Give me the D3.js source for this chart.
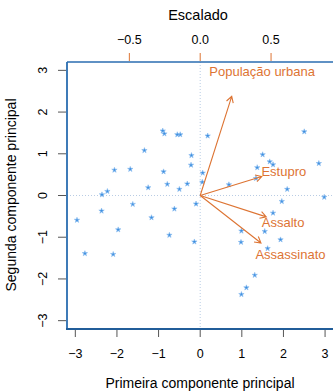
<!DOCTYPE html>
<html>
<head>
<meta charset="utf-8">
<script src="https://cdn.jsdelivr.net/npm/d3@7"></script>
<style>
  body { margin: 0; background: #fff; }
  text { font-family: "Liberation Sans", Arial, sans-serif; }
</style>
</head>
<body>
<svg width="333" height="392"></svg>
<script>
// escores dos estados (PC1, PC2)
var pc1 = [0.98, 1.93, 1.75, -0.14, 2.50, 1.50, -1.34, 0.05, 2.98, 1.62,
           -0.90, -1.62, 1.37, -0.50, -2.23, -0.79, -0.74, 1.55, -2.37, 1.75,
           -0.48, 2.09, -1.68, 0.99, 0.69, -1.17, -1.25, 2.85, -2.36, 0.18,
           1.96, 1.67, 1.11, -2.96, -0.22, -0.31, 0.06, -0.88, -0.86, 1.31,
           -1.97, 0.99, 1.34, -0.55, -2.77, -0.10, -0.21, -2.09, -2.06, -0.62];
var pc2 = [-1.12, -1.06, 0.74, -1.11, 1.53, 0.98, 1.08, 0.32, -0.04, -1.27,
           1.55, -0.21, 0.67, 0.15, 0.10, 0.27, -0.95, -0.86, -0.37, -0.42,
           1.46, 0.15, 0.63, -2.37, 0.26, -0.53, 0.19, 0.77, 0.02, 1.43,
           -0.14, 0.81, -2.21, -0.59, 0.73, 0.28, 0.54, 0.57, 1.48, -1.91,
           -0.82, -0.85, 0.41, 1.46, -1.39, -0.20, 0.96, -1.41, 0.61, -0.32];

// cargas das variaveis
var variaveis = ["Assassinato", "Assalto", "População urbana", "Estupro"];
var cargaX = [0.536, 0.583, 0.278, 0.543];
var cargaY = [-0.418, -0.188, 0.873, 0.167];
var rotuloX = [0.637, 0.585, 0.437, 0.59];

var ticksBaixo = [-3, -2, -1, 0, 1, 2, 3];
var ticksEsq = [-3, -2, -1, 0, 1, 2, 3];
var ticksTopo = [-0.5, 0.0, 0.5];

var svg = d3.select("svg");
var laranja = "#dd7433", azul = "#2a6db0", ponto = "#3d8fe0";

var x = d3.scaleLinear().domain([-3.2, 3.2]).range([67, 333.4]);
var y = d3.scaleLinear().domain([-3.2, 3.2]).range([329, 62]);
var xl = d3.scaleLinear().domain([-0.94, 0.94]).range([67, 333.4]);
var yl = d3.scaleLinear().domain([-0.94, 0.94]).range([329, 62]);

// linhas de referencia
svg.append("line").attr("x1", x(0)).attr("x2", x(0)).attr("y1", 62).attr("y2", 329)
   .attr("stroke", "#b9cce4").attr("stroke-dasharray", "1,2");
svg.append("line").attr("x1", 67).attr("x2", 333).attr("y1", y(0)).attr("y2", y(0))
   .attr("stroke", "#b9cce4").attr("stroke-dasharray", "1,2");

// pontos
var dados = pc1.map(function(d, i) { return {x: d, y: pc2[i]}; });
svg.append("g").selectAll("path")
   .data(dados).enter().append("path")
   .attr("d", d3.symbol().type(d3.symbolStar).size(9))
   .attr("transform", function(d) { return "translate(" + x(d.x) + "," + y(d.y) + ")"; })
   .attr("fill", ponto).attr("stroke", "#8dbdf0").attr("stroke-width", 0.6);

// setas
var setas = variaveis.map(function(v, i) {
  return {nome: v, x: cargaX[i], y: cargaY[i], lx: rotuloX[i]};
});
var g = svg.append("g");
setas.forEach(function(s) {
  var x0 = xl(0), y0 = yl(0), x1 = xl(s.x * 0.8), y1 = yl(s.y * 0.8);
  var ang = Math.atan2(y1 - y0, x1 - x0), len = 7, a = Math.PI / 6;
  g.append("path")
   .attr("d", "M" + x0 + "," + y0 + "L" + x1 + "," + y1 +
        "M" + (x1 - len * Math.cos(ang - a)) + "," + (y1 - len * Math.sin(ang - a)) +
        "L" + x1 + "," + y1 +
        "L" + (x1 - len * Math.cos(ang + a)) + "," + (y1 - len * Math.sin(ang + a)))
   .attr("fill", "none").attr("stroke", laranja).attr("stroke-width", 1.1);
  g.append("text").attr("x", xl(s.lx)).attr("y", yl(s.y) + 4.5)
   .attr("text-anchor", "middle").attr("font-size", 13).attr("fill", laranja)
   .text(s.nome);
});

// caixa
svg.append("line").attr("x1", 67).attr("x2", 333).attr("y1", 62).attr("y2", 62)
   .attr("stroke", azul).attr("stroke-width", 1.5);
svg.append("line").attr("x1", 67).attr("x2", 67).attr("y1", 62).attr("y2", 329)
   .attr("stroke", azul).attr("stroke-width", 1.8);
svg.append("line").attr("x1", 66).attr("x2", 333).attr("y1", 329).attr("y2", 329)
   .attr("stroke", "#215d99").attr("stroke-width", 2);

// eixo de baixo
svg.selectAll(".tb").data(ticksBaixo).enter().append("line")
   .attr("x1", x).attr("x2", x).attr("y1", 330).attr("y2", 337)
   .attr("stroke", "#555");
svg.selectAll(".lb").data(ticksBaixo).enter().append("text")
   .attr("x", x).attr("y", 358).attr("text-anchor", "middle").attr("font-size", 12.5)
   .text(function(d) { return d < 0 ? "\u2212" + (-d) : d; });

// eixo da esquerda
svg.selectAll(".te").data(ticksEsq).enter().append("line")
   .attr("x1", 58).attr("x2", 66).attr("y1", y).attr("y2", y)
   .attr("stroke", "#555");
svg.selectAll(".le").data(ticksEsq).enter().append("text")
   .attr("transform", function(d) { return "translate(47," + y(d) + ") rotate(-90)"; })
   .attr("text-anchor", "middle").attr("font-size", 12.5)
   .text(function(d) { return d < 0 ? "\u2212" + (-d) : d; });

// eixo de cima (escalado)
svg.selectAll(".tt").data(ticksTopo).enter().append("line")
   .attr("x1", xl).attr("x2", xl).attr("y1", 53).attr("y2", 61)
   .attr("stroke", laranja);
svg.selectAll(".lt").data(ticksTopo).enter().append("text")
   .attr("x", xl).attr("y", 44).attr("text-anchor", "middle").attr("font-size", 12.5)
   .text(function(d) { return (d < 0 ? "\u2212" : "") + Math.abs(d).toFixed(1); });

// titulos
svg.append("text").attr("x", 198).attr("y", 20).attr("text-anchor", "middle")
   .attr("font-size", 14.5).text("Escalado");
svg.append("text").attr("x", 200).attr("y", 388).attr("text-anchor", "middle")
   .attr("font-size", 14).text("Primeira componente principal");
svg.append("text").attr("transform", "translate(16,195) rotate(-90)")
   .attr("text-anchor", "middle").attr("font-size", 14).text("Segunda componente principal");
</script>
</body>
</html>
